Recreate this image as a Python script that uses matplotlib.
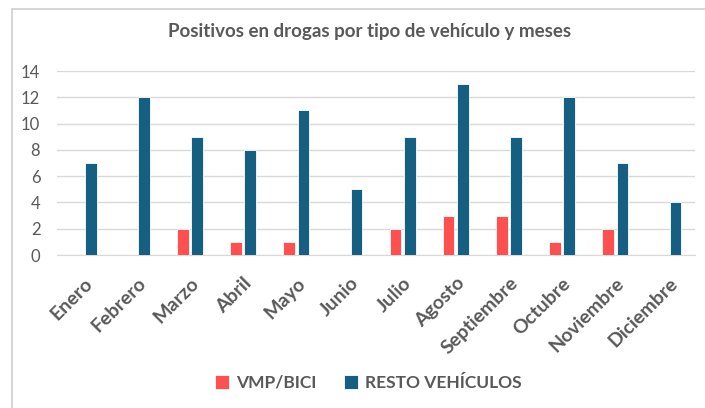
import matplotlib.pyplot as plt
import matplotlib.patches as mpatches
import numpy as np

meses = ["Enero", "Febrero", "Marzo", "Abril", "Mayo", "Junio", "Julio",
         "Agosto", "Septiembre", "Octubre", "Noviembre", "Diciembre"]
vmp_bici = [0, 0, 2, 1, 1, 0, 2, 3, 3, 1, 2, 0]
resto_vehiculos = [7, 12, 9, 8, 11, 5, 9, 13, 9, 12, 7, 4]

RED = "#FF5050"
BLUE = "#156082"
TEXT = "#595959"
GRID = "#D9D9D9"

plt.rcParams["font.family"] = ["Lato", "DejaVu Sans"]

fig = plt.figure(figsize=(7.05, 4.08), dpi=100)
ax = fig.add_axes([57 / 705, 153 / 408, 638 / 705, 184 / 408])

# chart border, open to the right and bottom like the cropped screenshot
fig.patches.append(mpatches.Rectangle((12 / 705, -0.05), 1.0, (399 / 408) + 0.05,
                                      transform=fig.transFigure, fill=False,
                                      edgecolor="#D0D0D0", linewidth=1.2))

x = np.arange(len(meses))
w = 0.22
off = 0.135
ax.bar(x - off, vmp_bici, w, color=RED, edgecolor="white", linewidth=0.6,
       label="VMP/BICI", zorder=3)
ax.bar(x + off, resto_vehiculos, w, color=BLUE, edgecolor="white", linewidth=0.6,
       label="RESTO VEHÍCULOS", zorder=3)

ax.set_xlim(-0.5, len(meses) - 0.5)
ax.set_ylim(0, 14)
ax.set_yticks(range(0, 15, 2))
ax.yaxis.grid(True, color=GRID, linewidth=1, zorder=0)
ax.set_axisbelow(True)
for s in ["top", "right", "left"]:
    ax.spines[s].set_visible(False)
ax.spines["bottom"].set_color(GRID)
ax.tick_params(axis="both", length=0, colors=TEXT)
ax.tick_params(axis="y", labelsize=12, pad=12)

ax.set_xticks(x)
ax.set_xticklabels(meses, rotation=45, ha="right", rotation_mode="anchor",
                   fontsize=14, fontweight="bold", color=TEXT)
ax.tick_params(axis="x", pad=14)

fig.text(370 / 705, 1 - 32 / 408, "Positivos en drogas por tipo de vehículo y meses",
         ha="center", va="center", fontsize=13.5, fontweight="bold", color=TEXT)

leg = fig.legend(loc="center", bbox_to_anchor=(368 / 705, 1 - 383 / 408), ncol=2,
                 frameon=False, fontsize=12.5, handlelength=0.8, handleheight=0.8,
                 handletextpad=0.4, columnspacing=1.6)
for t in leg.get_texts():
    t.set_color(TEXT)
    t.set_fontweight("bold")

fig.savefig("out.png", dpi=100)
